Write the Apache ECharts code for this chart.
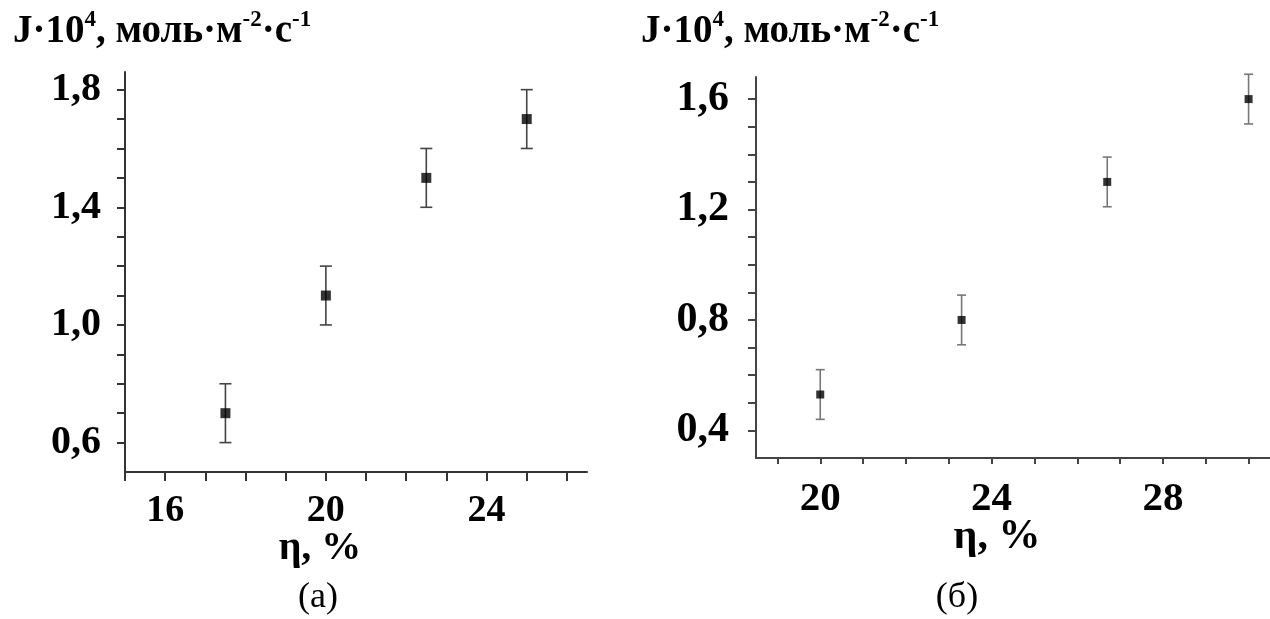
<!DOCTYPE html>
<html>
<head>
<meta charset="utf-8">
<script src="https://cdn.jsdelivr.net/npm/echarts@6/dist/echarts.min.js"></script>
<style>
  html, body { margin: 0; padding: 0; background: #fff; overflow: hidden; }
  #chart { width: 1270px; height: 619px; }
</style>
</head>
<body>
<div id="chart"></div>
<script>
// Panel (а): flux vs. porosity
const etaA = [17.5, 20, 22.5, 25];
const fluxA = [0.7, 1.1, 1.5, 1.7];
const errA = [0.1, 0.1, 0.1, 0.1];
const xTicksA = [15, 16, 17, 18, 19, 20, 21, 22, 23, 24, 25, 26];
const xLabelsA = [16, 20, 24];
const yTicksA = [0.6, 0.7, 0.8, 0.9, 1.0, 1.1, 1.2, 1.3, 1.4, 1.5, 1.6, 1.7, 1.8];
const yLabelsA = [0.6, 1.0, 1.4, 1.8];

// Panel (б)
const etaB = [20, 23.3, 26.7, 30];
const fluxB = [0.53, 0.8, 1.3, 1.6];
const errB = [0.09, 0.09, 0.09, 0.09];
const xTicksB = [19, 20, 21, 22, 23, 24, 25, 26, 27, 28, 29, 30];
const xLabelsB = [20, 24, 28];
const yTicksB = [0.4, 0.5, 0.6, 0.7, 0.8, 0.9, 1.0, 1.1, 1.2, 1.3, 1.4, 1.5, 1.6];
const yLabelsB = [0.4, 0.8, 1.2, 1.6];

// Axis titles: J·10^4, моль·м^-2·с^-1  and  η, %
const yTitle = '{m|J·10}{s|4}{m|, моль·м}{s|-2}{m|·с}{s|-1}';
const xTitle = 'η, %';
const captions = ['(а)', '(б)'];

const SERIF = '"Liberation Serif", "DejaVu Serif", serif';
const comma = v => (Math.round(v * 10) / 10).toFixed(1).replace('.', ',');

function zip(xs, ys, es) {
  return xs.map((x, i) => [x, ys[i], es ? es[i] : 0]);
}

function errorBars(gridIdx, data, color, cap) {
  return {
    type: 'custom',
    xAxisIndex: gridIdx,
    yAxisIndex: gridIdx,
    clip: false,
    z: 2,
    data: data,
    encode: { x: 0, y: [1] },
    renderItem: function (params, api) {
      const x = api.value(0), y = api.value(1), e = api.value(2);
      const lo = api.coord([x, y - e]);
      const hi = api.coord([x, y + e]);
      const st = { stroke: color, lineWidth: 1.6 };
      return {
        type: 'group',
        children: [
          { type: 'line', shape: { x1: lo[0], y1: lo[1], x2: hi[0], y2: hi[1] }, style: st },
          { type: 'line', shape: { x1: lo[0] - cap, y1: lo[1], x2: lo[0] + cap, y2: lo[1] }, style: st },
          { type: 'line', shape: { x1: hi[0] - cap, y1: hi[1], x2: hi[0] + cap, y2: hi[1] }, style: st }
        ]
      };
    }
  };
}

function xAxisDef(gridIdx, min, max, ticks, labels, tickLen, lineColor, margin, size) {
  return {
    type: 'value', gridIndex: gridIdx, min: min, max: max,
    splitLine: { show: false },
    axisLine: { onZero: false, lineStyle: { color: lineColor, width: 2 } },
    axisTick: { customValues: ticks, length: tickLen, lineStyle: { color: lineColor, width: 2 } },
    axisLabel: {
      customValues: labels, margin: margin,
      fontFamily: SERIF, fontWeight: 'bold', fontSize: size, color: '#000',
      formatter: v => String(v)
    }
  };
}

function yAxisDef(gridIdx, min, max, ticks, labels, lineColor, margin, size) {
  return {
    type: 'value', gridIndex: gridIdx, min: min, max: max,
    splitLine: { show: false },
    axisLine: { onZero: false, lineStyle: { color: lineColor, width: 2 } },
    axisTick: { customValues: ticks, length: 8, lineStyle: { color: lineColor, width: 2 } },
    axisLabel: {
      customValues: labels, margin: margin,
      fontFamily: SERIF, fontWeight: 'bold', fontSize: size, color: '#000',
      formatter: v => comma(v)
    }
  };
}

const titleRich = {
  m: { fontFamily: SERIF, fontWeight: 'bold', fontSize: 39, lineHeight: 42, color: '#000', verticalAlign: 'bottom' },
  s: { fontFamily: SERIF, fontWeight: 'bold', fontSize: 23, lineHeight: 24, color: '#000', verticalAlign: 'top' }
};

function label(text, cx, top, font) {
  return {
    type: 'text', x: cx, y: top,
    style: { text: text, font: font, fill: '#000', align: 'center', verticalAlign: 'middle' }
  };
}

const chart = echarts.init(document.getElementById('chart'), null, { renderer: 'canvas' });

chart.setOption({
  backgroundColor: '#fff',
  animation: false,
  title: [
    { text: yTitle, left: 8, top: 4, textStyle: { rich: titleRich } },
    { text: yTitle, left: 636, top: 4, textStyle: { rich: titleRich } }
  ],
  grid: [
    { left: 125, top: 72, right: 683, bottom: 147 },
    { left: 756, top: 77, right: -8, bottom: 161 }
  ],
  xAxis: [
    xAxisDef(0, 15, 26.5, xTicksA, xLabelsA, 9, '#333', 20, 38),
    xAxisDef(1, 18.5, 30.5, xTicksB, xLabelsB, 6, '#444', 21, 41)
  ],
  yAxis: [
    yAxisDef(0, 0.5, 1.86, yTicksA, yLabelsA, '#333', 24, 40),
    yAxisDef(1, 0.3, 1.68, yTicksB, yLabelsB, '#444', 27, 42)
  ],
  graphic: [
    label(xTitle, 320, 549, 'bold 40px ' + SERIF),
    label(xTitle, 997, 537, 'bold 42px ' + SERIF),
    label(captions[0], 318, 598, '36px ' + SERIF),
    label(captions[1], 957, 598, '36px ' + SERIF)
  ],
  series: [
    errorBars(0, zip(etaA, fluxA, errA), '#444', 6),
    { type: 'scatter', xAxisIndex: 0, yAxisIndex: 0, symbol: 'rect', symbolSize: 10, z: 3,
      itemStyle: { color: '#000' }, data: zip(etaA, fluxA) },
    errorBars(1, zip(etaB, fluxB, errB), '#777', 4.5),
    { type: 'scatter', xAxisIndex: 1, yAxisIndex: 1, symbol: 'rect', symbolSize: 8, z: 3,
      itemStyle: { color: '#000' }, data: zip(etaB, fluxB) }
  ]
});
</script>
</body>
</html>
